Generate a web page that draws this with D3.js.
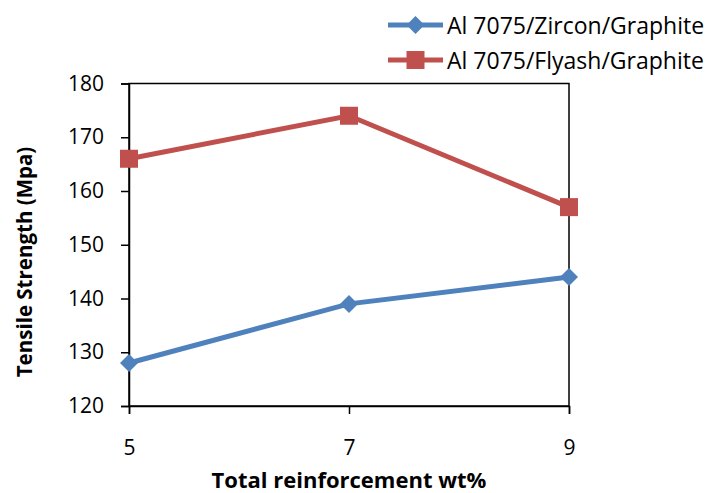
<!DOCTYPE html>
<html>
<head>
<meta charset="utf-8">
<script src="https://cdn.jsdelivr.net/npm/d3@7"></script>
<style>
  body { margin: 0; background: #fff; }
  text { font-family: "Open Sans", Lato, sans-serif; fill: #000; }
</style>
</head>
<body>
<script>
const reinforcement = [5, 7, 9]
const zircon = [128, 139, 144]
const flyash = [166, 174, 157]
const yTicks = [120, 130, 140, 150, 160, 170, 180]
const seriesNames = ["Al 7075/Zircon/Graphite", "Al 7075/Flyash/Graphite"]

const width = 712, height = 493
const margin = { top: 83.5, right: 143, bottom: 87, left: 129 }

const svg = d3.select("body").append("svg")
    .attr("width", width)
    .attr("height", height)

const x = d3.scaleLinear()
    .domain([5, 9])
    .range([margin.left, width - margin.right])

const y = d3.scaleLinear()
    .domain([120, 180])
    .range([height - margin.bottom, margin.top])

// marco del area de trazado
svg.append("rect")
    .attr("x", x(5))
    .attr("y", y(180))
    .attr("width", x(9) - x(5))
    .attr("height", y(120) - y(180))
    .attr("fill", "none")
    .attr("stroke", "#000")
    .attr("stroke-width", 1.5)

const yAxis = svg.append("g")
    .attr("transform", `translate(${x(5)},0)`)
    .call(d3.axisLeft(y).tickValues(yTicks).tickSize(8).tickPadding(17))
yAxis.select(".domain").attr("stroke-width", 1.5)
yAxis.selectAll(".tick line").attr("stroke-width", 1.5)
yAxis.selectAll("text").style("font-size", "21px").attr("font-family", null)

const xAxis = svg.append("g")
    .attr("transform", `translate(0,${y(120)})`)
    .call(d3.axisBottom(x).tickValues(reinforcement).tickFormat(d3.format("d")).tickSize(8).tickPadding(26))
xAxis.select(".domain").attr("stroke-width", 1.5)
xAxis.selectAll(".tick line").attr("stroke-width", 1.5)
xAxis.selectAll("text").style("font-size", "21px").attr("font-family", null)

svg.append("text")
    .attr("x", x(7))
    .attr("y", 488)
    .attr("text-anchor", "middle")
    .style("font-size", "22px")
    .style("font-weight", "700")
    .text("Total reinforcement wt%")

svg.append("text")
    .attr("transform", `translate(32,262) rotate(-90)`)
    .attr("text-anchor", "middle")
    .style("font-size", "20.5px")
    .style("font-weight", "700")
    .text("Tensile Strength (Mpa)")

const series = [
    { name: seriesNames[0], values: zircon, color: "#4F81BD", shape: "diamond" },
    { name: seriesNames[1], values: flyash, color: "#C0504D", shape: "square" }
]

const line = d3.line()
    .x((d, i) => x(reinforcement[i]))
    .y(d => y(d))

function marker(g, shape, color) {
    if (shape === "diamond") {
        g.append("path")
            .attr("d", "M 0 -9 L 9 0 L 0 9 L -9 0 Z")
            .attr("fill", color)
    } else {
        g.append("rect")
            .attr("x", -9).attr("y", -9)
            .attr("width", 18).attr("height", 18)
            .attr("fill", color)
    }
}

series.forEach(s => {
    svg.append("path")
        .datum(s.values)
        .attr("d", line)
        .attr("fill", "none")
        .attr("stroke", s.color)
        .attr("stroke-width", 5)
    s.values.forEach((v, i) => {
        const g = svg.append("g").attr("transform", `translate(${x(reinforcement[i])},${y(v)})`)
        marker(g, s.shape, s.color)
    })
})

// leyenda
const legend = svg.append("g")
series.forEach((s, i) => {
    const ly = 25 + i * 35
    legend.append("line")
        .attr("x1", 388).attr("x2", 443)
        .attr("y1", ly).attr("y2", ly)
        .attr("stroke", s.color)
        .attr("stroke-width", 5)
    const g = legend.append("g").attr("transform", `translate(415.5,${ly})`)
    marker(g, s.shape, s.color)
    legend.append("text")
        .attr("x", 447)
        .attr("y", ly)
        .attr("dominant-baseline", "central")
        .style("font-size", "23px")
        .text(s.name)
})
</script>
</body>
</html>
